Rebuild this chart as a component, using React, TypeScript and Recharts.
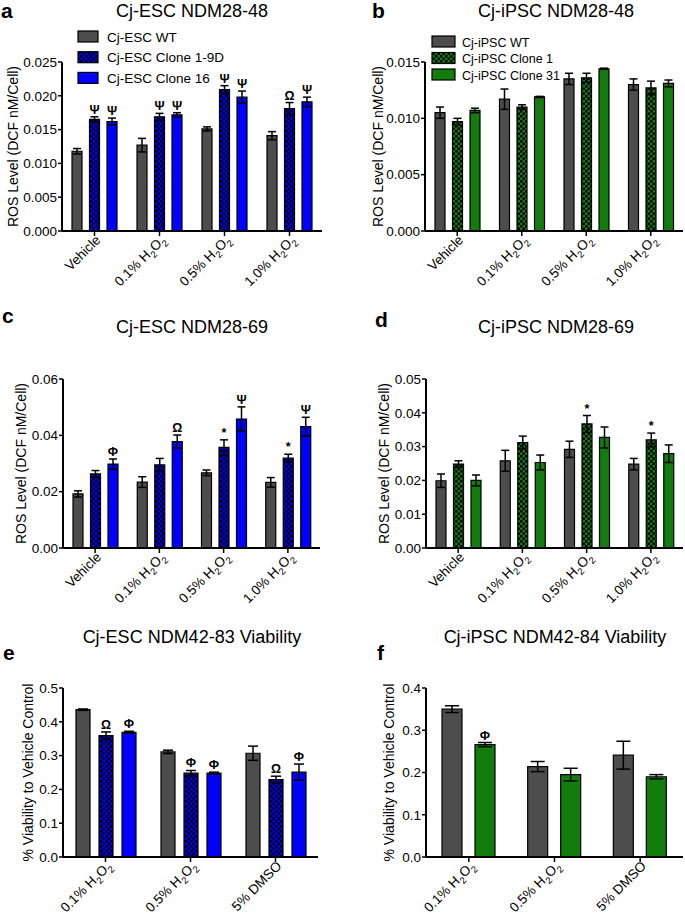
import { Bar, BarChart, ErrorBar, LabelList, XAxis, YAxis } from 'recharts'

const FONT = '"Liberation Sans", Arial, Helvetica, sans-serif'

const GRAY = '#4d4d4d'
const BLUE = '#0000ff'
const GREEN = '#127c0c'

// categories
const rosCategories = ['Vehicle', '0.1% H2O2', '0.5% H2O2', '1.0% H2O2']
const viabilityCategories = ['0.1% H2O2', '0.5% H2O2', '5% DMSO']

// a: Cj-ESC NDM28-48
const aWt = [0.0118, 0.0127, 0.0151, 0.0141]
const aWtErr = [0.0004, 0.001, 0.0003, 0.0006]
const aClone19d = [0.0165, 0.0169, 0.0209, 0.0181]
const aClone19dErr = [0.0004, 0.0005, 0.0006, 0.0009]
const aClone16 = [0.0162, 0.0172, 0.0198, 0.0191]
const aClone16Err = [0.0005, 0.0003, 0.0009, 0.0007]
const aMarks19d = ['Ψ', 'Ψ', 'Ψ', 'Ω']
const aMarks16 = ['Ψ', 'Ψ', 'Ψ', 'Ψ']
const aTicks = [0, 0.005, 0.01, 0.015, 0.02, 0.025]

// b: Cj-iPSC NDM28-48
const bWt = [0.0105, 0.0117, 0.0135, 0.013]
const bWtErr = [0.0005, 0.0009, 0.0005, 0.0005]
const bClone1 = [0.0097, 0.011, 0.0136, 0.0127]
const bClone1Err = [0.0003, 0.0002, 0.0004, 0.0006]
const bClone31 = [0.0107, 0.0119, 0.0144, 0.0131]
const bClone31Err = [0.0002, 0.00005, 0.00005, 0.0003]
const bTicks = [0, 0.005, 0.01, 0.015]

// c: Cj-ESC NDM28-69
const cWt = [0.0192, 0.0234, 0.0267, 0.0233]
const cWtErr = [0.0011, 0.0019, 0.001, 0.0017]
const cClone19d = [0.0263, 0.0295, 0.0357, 0.0319]
const cClone19dErr = [0.0012, 0.0023, 0.0027, 0.0014]
const cClone16 = [0.0298, 0.0378, 0.0458, 0.0431]
const cClone16Err = [0.0018, 0.0023, 0.0043, 0.0033]
const cMarks19d = ['', '', '*', '*']
const cMarks16 = ['Φ', 'Ω', 'Ψ', 'Ψ']
const cTicks = [0, 0.02, 0.04, 0.06]

// d: Cj-iPSC NDM28-69
const dWt = [0.0199, 0.0258, 0.0292, 0.0248]
const dWtErr = [0.002, 0.0031, 0.0024, 0.0017]
const dClone1 = [0.0248, 0.0312, 0.0367, 0.032]
const dClone1Err = [0.001, 0.0019, 0.0025, 0.002]
const dClone31 = [0.02, 0.0253, 0.0327, 0.0279]
const dClone31Err = [0.0016, 0.0022, 0.0031, 0.0026]
const dMarks1 = ['', '', '*', '*']
const dTicks = [0, 0.01, 0.02, 0.03, 0.04, 0.05]

// e: Cj-ESC NDM42-83 viability
const eWt = [0.436, 0.311, 0.307]
const eWtErr = [0.002, 0.005, 0.021]
const eClone19d = [0.359, 0.248, 0.229]
const eClone19dErr = [0.011, 0.008, 0.01]
const eClone16 = [0.369, 0.248, 0.251]
const eClone16Err = [0.003, 0.003, 0.024]
const eMarks19d = ['Ω', 'Φ', 'Ω']
const eMarks16 = ['Φ', 'Φ', 'Φ']
const eTicks = [0, 0.1, 0.2, 0.3, 0.4, 0.5]

// f: Cj-iPSC NDM42-84 viability
const fWt = [0.35, 0.214, 0.241]
const fWtErr = [0.008, 0.012, 0.033]
const fClone = [0.266, 0.195, 0.19]
const fCloneErr = [0.005, 0.015, 0.005]
const fMarksClone = ['Φ', '', '']
const fTicks = [0, 0.1, 0.2, 0.3, 0.4]

interface Series {
  name: string
  values: number[]
  errors: number[]
  fill: string
  checker?: boolean
  marks?: string[]
}

interface Plot {
  l: number
  r: number
  t: number
  b: number
}

interface PanelProps {
  id: string
  left: number
  top: number
  width: number
  plot: Plot
  categories: string[]
  series: Series[]
  ticks: number[]
  decimals: number
  barSize: number
  barGap: number
  cap: number
  yLabel: string
  yLabelX: number
}

function chemSpans(label: string) {
  if (!label.includes('H2O2')) return label
  const prefix = label.replace('H2O2', '')
  return (
    <>
      <tspan>{prefix}H</tspan>
      <tspan dy={4} fontSize={9.5}>2</tspan>
      <tspan dy={-4}>O</tspan>
      <tspan dy={4} fontSize={9.5}>2</tspan>
    </>
  )
}

const SlantTick = (props: any) => {
  const { x, y, payload } = props
  return (
    <g transform={`translate(${x + 4},${y})`}>
      <text transform="rotate(-45)" textAnchor="end" y={4} fontSize={13.5} fontFamily={FONT} fill="#000">
        {chemSpans(String(payload.value))}
      </text>
    </g>
  )
}

const YLabel = (props: any) => {
  const { viewBox, text, cx } = props
  const cy = viewBox.y + viewBox.height / 2
  return (
    <text
      x={cx}
      y={cy}
      transform={`rotate(-90, ${cx}, ${cy})`}
      textAnchor="middle"
      dominantBaseline="central"
      fontSize={14}
      fontFamily={FONT}
      fill="#000"
    >
      {text}
    </text>
  )
}

const markContent = (s: Series, pxPerUnit: number) => (p: any) => {
  const vb = p.viewBox ?? p
  const index = p.index ?? s.values.indexOf(p.value)
  const mark = s.marks?.[index]
  if (!mark) return null
  const top = Number(vb.y) - s.errors[index] * pxPerUnit
  return (
    <text
      x={Number(vb.x) + Number(vb.width) / 2}
      y={top - 3}
      textAnchor="middle"
      fontSize={12.5}
      fontWeight="bold"
      fontFamily={FONT}
      fill="#000"
    >
      {mark}
    </text>
  )
}

function Panel(props: PanelProps) {
  const { id, left, top, width, plot, categories, series, ticks, decimals, barSize, barGap, cap, yLabel, yLabelX } = props
  const rows = categories.map((name, i) => {
    const row: Record<string, string | number> = { name }
    series.forEach((s, k) => {
      row[`s${k}`] = s.values[i]
      row[`e${k}`] = s.errors[i]
    })
    return row
  })
  const yMax = ticks[ticks.length - 1]
  const pxPerUnit = (plot.b - plot.t) / yMax
  const height = plot.b - top + 70

  return (
    <div style={{ position: 'absolute', left, top, width, height }}>
      <BarChart
        width={width}
        height={height}
        data={rows}
        margin={{ top: plot.t - top, right: left + width - plot.r, bottom: 0, left: 0 }}
        barSize={barSize}
        barGap={barGap}
      >
        <defs>
          {series.map((s, k) =>
            s.checker ? (
              <pattern key={k} id={`${id}-chk-${k}`} patternUnits="userSpaceOnUse" width={5} height={5}>
                <rect width={5} height={5} fill={s.fill} />
                <rect width={2.5} height={2.5} fill="#000" />
                <rect x={2.5} y={2.5} width={2.5} height={2.5} fill="#000" />
              </pattern>
            ) : null,
          )}
        </defs>
        <XAxis
          dataKey="name"
          height={70}
          interval={0}
          tick={<SlantTick />}
          tickSize={5}
          tickLine={{ stroke: '#000', strokeWidth: 1.5 }}
          axisLine={{ stroke: '#000', strokeWidth: 2 }}
        />
        <YAxis
          width={plot.l - left}
          domain={[0, yMax]}
          ticks={ticks}
          interval={0}
          allowDataOverflow
          tickFormatter={(v: number) => v.toFixed(decimals)}
          tickSize={4}
          tickMargin={1}
          tick={{ fill: '#000', fontSize: 13.5, fontFamily: FONT }}
          tickLine={{ stroke: '#000', strokeWidth: 1.5 }}
          axisLine={{ stroke: '#000', strokeWidth: 2 }}
          label={<YLabel text={yLabel} cx={yLabelX - left} />}
        />
        {series.map((s, k) => (
          <Bar
            key={k}
            dataKey={`s${k}`}
            name={s.name}
            fill={s.checker ? `url(#${id}-chk-${k})` : s.fill}
            stroke="#000"
            strokeWidth={1.2}
            isAnimationActive={false}
          >
            <ErrorBar dataKey={`e${k}`} width={cap} stroke="#000" strokeWidth={1.5} direction="y" />
            {s.marks ? <LabelList dataKey={`s${k}`} content={markContent(s, pxPerUnit)} /> : null}
          </Bar>
        ))}
      </BarChart>
    </div>
  )
}

const rosLabel = 'ROS Level (DCF nM/Cell)'
const viabilityLabel = '% Viability to Vehicle Control'

const aSeries: Series[] = [
  { name: 'Cj-ESC WT', values: aWt, errors: aWtErr, fill: GRAY },
  { name: 'Cj-ESC Clone 1-9D', values: aClone19d, errors: aClone19dErr, fill: BLUE, checker: true, marks: aMarks19d },
  { name: 'Cj-ESC Clone 16', values: aClone16, errors: aClone16Err, fill: BLUE, marks: aMarks16 },
]
const bSeries: Series[] = [
  { name: 'Cj-iPSC WT', values: bWt, errors: bWtErr, fill: GRAY },
  { name: 'Cj-iPSC Clone 1', values: bClone1, errors: bClone1Err, fill: GREEN, checker: true },
  { name: 'Cj-iPSC Clone 31', values: bClone31, errors: bClone31Err, fill: GREEN },
]
const cSeries: Series[] = [
  { name: 'Cj-ESC WT', values: cWt, errors: cWtErr, fill: GRAY },
  { name: 'Cj-ESC Clone 1-9D', values: cClone19d, errors: cClone19dErr, fill: BLUE, checker: true, marks: cMarks19d },
  { name: 'Cj-ESC Clone 16', values: cClone16, errors: cClone16Err, fill: BLUE, marks: cMarks16 },
]
const dSeries: Series[] = [
  { name: 'Cj-iPSC WT', values: dWt, errors: dWtErr, fill: GRAY },
  { name: 'Cj-iPSC Clone 1', values: dClone1, errors: dClone1Err, fill: GREEN, checker: true, marks: dMarks1 },
  { name: 'Cj-iPSC Clone 31', values: dClone31, errors: dClone31Err, fill: GREEN },
]
const eSeries: Series[] = [
  { name: 'Cj-ESC WT', values: eWt, errors: eWtErr, fill: GRAY },
  { name: 'Cj-ESC Clone 1-9D', values: eClone19d, errors: eClone19dErr, fill: BLUE, checker: true, marks: eMarks19d },
  { name: 'Cj-ESC Clone 16', values: eClone16, errors: eClone16Err, fill: BLUE, marks: eMarks16 },
]
const fSeries: Series[] = [
  { name: 'Cj-iPSC WT', values: fWt, errors: fWtErr, fill: GRAY },
  { name: 'Cj-iPSC Clone', values: fClone, errors: fCloneErr, fill: GREEN, marks: fMarksClone },
]

function LegendBlock({ id, series, x, y, row, sw, textX, fontSize }: {
  id: string; series: Series[]; x: number; y: number; row: number; sw: number; textX: number; fontSize: number
}) {
  return (
    <g>
      <defs>
        {series.map((s, k) =>
          s.checker ? (
            <pattern key={k} id={`${id}-leg-${k}`} patternUnits="userSpaceOnUse" width={5} height={5}>
              <rect width={5} height={5} fill={s.fill} />
              <rect width={2.5} height={2.5} fill="#000" />
              <rect x={2.5} y={2.5} width={2.5} height={2.5} fill="#000" />
            </pattern>
          ) : null,
        )}
      </defs>
      {series.map((s, k) => (
        <g key={k}>
          <rect
            x={x}
            y={y + k * row}
            width={sw}
            height={11}
            fill={s.checker ? `url(#${id}-leg-${k})` : s.fill}
            stroke="#000"
            strokeWidth={1.2}
          />
          <text x={textX} y={y + k * row + 10.5} fontSize={fontSize} fontFamily={FONT} fill="#000">
            {s.name}
          </text>
        </g>
      ))}
    </g>
  )
}

const titles = [
  { letter: 'a', lx: 1, ly: 18, text: 'Cj-ESC NDM28-48', tx: 192, ty: 17 },
  { letter: 'b', lx: 372, ly: 18, text: 'Cj-iPSC NDM28-48', tx: 556, ty: 17 },
  { letter: 'c', lx: 2, ly: 323, text: 'Cj-ESC NDM28-69', tx: 192, ty: 333 },
  { letter: 'd', lx: 375, ly: 327, text: 'Cj-iPSC NDM28-69', tx: 556, ty: 333 },
  { letter: 'e', lx: 3, ly: 660, text: 'Cj-ESC NDM42-83 Viability', tx: 192, ty: 643 },
  { letter: 'f', lx: 377, ly: 660, text: 'Cj-iPSC NDM42-84 Viability', tx: 555, ty: 643 },
]

export default function App() {
  return (
    <div style={{ position: 'absolute', left: 0, top: 0, width: 685, height: 918, overflow: 'hidden', background: '#fff' }}>
      <Panel id="pa" left={0} top={0} width={340} plot={{ l: 62, r: 322, t: 62, b: 231 }} categories={rosCategories}
        series={aSeries} ticks={aTicks} decimals={3} barSize={10} barGap={7.5} cap={4} yLabel={rosLabel} yLabelX={12.5} />
      <Panel id="pb" left={340} top={0} width={345} plot={{ l: 425, r: 683, t: 62, b: 231 }} categories={rosCategories}
        series={bSeries} ticks={bTicks} decimals={3} barSize={10} barGap={7.5} cap={4} yLabel={rosLabel} yLabelX={378} />
      <Panel id="pc" left={0} top={300} width={340} plot={{ l: 63, r: 320, t: 379, b: 548 }} categories={rosCategories}
        series={cSeries} ticks={cTicks} decimals={2} barSize={10} barGap={7.5} cap={4} yLabel={rosLabel} yLabelX={21} />
      <Panel id="pd" left={340} top={300} width={345} plot={{ l: 426, r: 683, t: 379, b: 548 }} categories={rosCategories}
        series={dSeries} ticks={dTicks} decimals={2} barSize={10} barGap={7.5} cap={4} yLabel={rosLabel} yLabelX={383.5} />
      <Panel id="pe" left={0} top={600} width={340} plot={{ l: 63, r: 318, t: 688, b: 857 }} categories={viabilityCategories}
        series={eSeries} ticks={eTicks} decimals={1} barSize={14} barGap={9} cap={5} yLabel={viabilityLabel} yLabelX={27.5} />
      <Panel id="pf" left={340} top={600} width={345} plot={{ l: 426, r: 683, t: 688, b: 857 }} categories={viabilityCategories}
        series={fSeries} ticks={fTicks} decimals={1} barSize={20} barGap={13} cap={7} yLabel={viabilityLabel} yLabelX={389} />
      <svg width={685} height={918} style={{ position: 'absolute', left: 0, top: 0, pointerEvents: 'none' }}>
        {titles.map((t) => (
          <g key={t.letter}>
            <text x={t.lx} y={t.ly} fontSize={21} fontWeight="bold" fontFamily={FONT} fill="#000">
              {t.letter}
            </text>
            <text x={t.tx} y={t.ty} textAnchor="middle" fontSize={18} fontFamily={FONT} fill="#000">
              {t.text}
            </text>
          </g>
        ))}
        <LegendBlock id="la" series={aSeries} x={78} y={31} row={20.7} sw={20} textX={107} fontSize={13.5} />
        <LegendBlock id="lb" series={bSeries} x={432} y={36} row={16.5} sw={23} textX={462} fontSize={12.5} />
      </svg>
    </div>
  )
}
